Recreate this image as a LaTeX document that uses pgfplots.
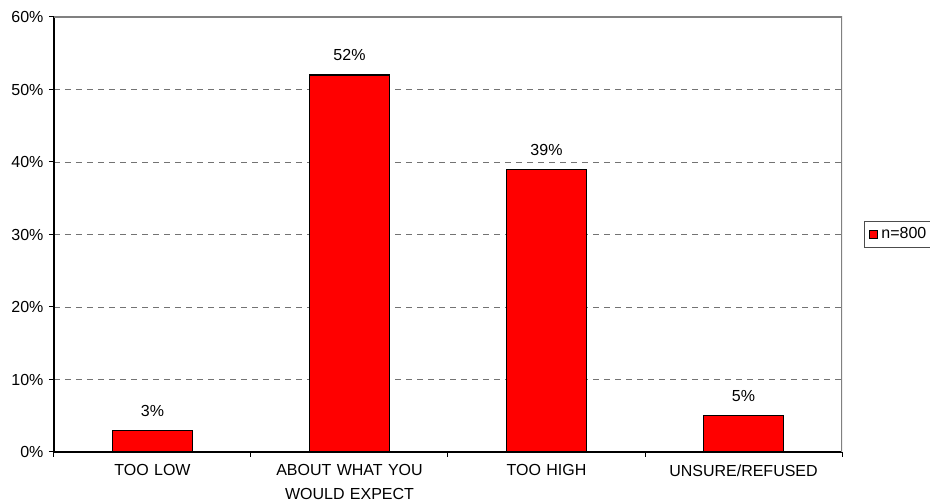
\documentclass[border=0pt]{standalone}
\usepackage{pgfplots}
\pgfplotsset{compat=1.18}
\usepackage{fontspec}
\setmainfont{Liberation Sans}
\begin{document}
\fontsize{16}{24}\selectfont
\begin{tikzpicture}[x=1pt,y=1pt]
\path[use as bounding box] (0,0) rectangle (930,503);
\begin{axis}[
  at={(54pt,51pt)}, anchor=south west,
  width=788pt, height=435pt, scale only axis,
  xmin=-0.5, xmax=3.5, ymin=0, ymax=60,
  axis lines*=left,
  axis line style={black, line width=1.2pt},
  xtick={0,1,2,3},
  xticklabels={TOO LOW, ABOUT WHAT YOU\\WOULD EXPECT, TOO HIGH, UNSURE/REFUSED},
  xticklabel style={align=center, text width=200pt, yshift=-2pt, font=\fontsize{16}{24}\selectfont},
  yticklabel style={font=\fontsize{16}{24}\selectfont},
  major x tick style={draw=none},
  minor xtick={-0.5,0.5,1.5,2.5,3.5},
  minor x tick style={black, line width=1pt},
  minor tick length=5pt,
  ytick={0,10,20,30,40,50,60},
  yticklabels={0\%,10\%,20\%,30\%,40\%,50\%,60\%},
  major y tick style={black, line width=1pt},
  major tick length=5pt,
  tick align=outside,
  ymajorgrids,
  major grid style={gray!90!black, dash pattern=on 6pt off 5pt, line width=0.8pt},
  ybar, bar width=0.41,
  nodes near coords={\pgfmathprintnumber[assume math mode=true]{\pgfplotspointmeta}\%},
  every node near coord/.append style={yshift=8pt, black, font=\fontsize{16}{24}\selectfont},
  legend style={at={(1.028,0.5)}, anchor=west, draw=black!70, line width=0.8pt,
    inner xsep=5pt, inner ysep=4pt, font=\fontsize{16}{20}\selectfont,
    legend cell align=left, nodes={inner xsep=3pt}},
  legend image code/.code={\draw[fill=red, draw=black, line width=1pt] (2pt,-4pt) rectangle (10pt,4pt);},
]
\addplot[fill=red, draw=black, line width=1.2pt] coordinates {(0,3) (1,52) (2,39) (3,5)};
\addlegendentry{n=800}
\draw[gray, line width=1.2pt] (rel axis cs:0,1) -- (rel axis cs:1,1) -- (rel axis cs:1,0);
\end{axis}
\end{tikzpicture}
\end{document}
